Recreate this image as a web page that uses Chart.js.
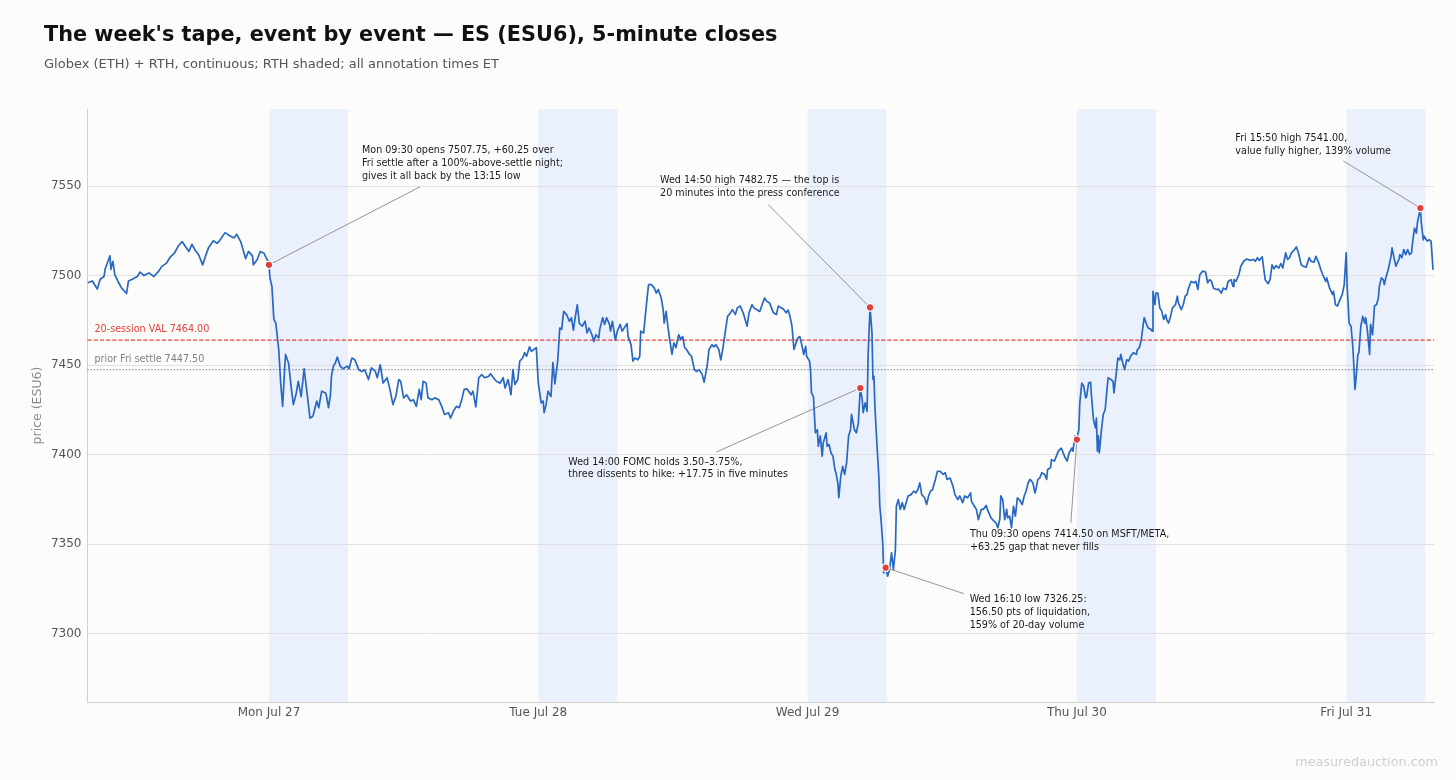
<!DOCTYPE html>
<html>
<head>
<meta charset="utf-8">
<title>The week's tape — ES (ESU6)</title>
<script src="https://cdn.jsdelivr.net/npm/chart.js@4.4.1/dist/chart.umd.min.js"></script>
<style>
  html, body { margin: 0; padding: 0; background: #fcfcfb; overflow: hidden; }
  #wrap { position: relative; width: 1456px; height: 780px; }
</style>
</head>
<body>
<div id="wrap"><canvas id="tapeChart" width="1456" height="780"></canvas></div>
<script>
// 5-minute bar number, counted from the Sunday 18:00 Globex open (276 bars per session)
const bars = [
    0, 5, 10, 13, 17, 18, 21, 23, 24, 26, 28, 32, 35, 40, 42, 46, 51, 54, 58, 63, 68, 73, 76, 81, 85, 89, 93, 97, 100,
    104, 107, 110, 114, 118, 121, 124, 129, 133, 136, 141, 145, 150, 153, 157, 160, 162, 165, 169, 170, 174, 177, 181,
    183, 185, 186, 187, 189, 191, 193, 196, 198, 200, 202, 203, 206, 209, 211, 214, 216, 219, 222, 225, 228, 231, 235,
    237, 240, 244, 245, 247, 249, 250, 252, 254, 256, 259, 262, 266, 268, 271, 274, 278, 281, 284, 288, 291, 295, 297,
    300, 303, 307, 310, 313, 316, 319, 321, 324, 327, 331, 334, 337, 340, 342, 344, 347, 349, 353, 356, 360, 363, 366,
    370, 372, 375, 378, 381, 384, 386, 389, 393, 395, 398, 401, 404, 407, 411, 413, 416, 419, 423, 426, 428, 431, 434,
    436, 438, 441, 443, 446, 448, 450, 453, 455, 458, 460, 462, 465, 467, 468, 470, 472, 475, 477, 479, 482, 484, 486,
    488, 491, 494, 496, 498, 500, 502, 504, 507, 510, 512, 514, 517, 519, 521, 524, 525, 528, 530, 532, 535, 536, 538,
    541, 543, 546, 548, 550, 553, 554, 557, 559, 561, 564, 566, 567, 570, 573, 575, 578, 581, 583, 585, 588, 590, 591,
    593, 595, 597, 599, 601, 603, 606, 608, 610, 612, 614, 617, 619, 622, 624, 627, 630, 632, 635, 637, 640, 642, 644,
    647, 649, 651, 654, 656, 659, 661, 664, 666, 669, 672, 674, 676, 678, 681, 683, 686, 689, 692, 694, 696, 699, 701,
    703, 706, 708, 711, 713, 716, 718, 720, 722, 724, 725, 728, 730, 732, 734, 736, 737, 740, 741, 742, 744, 746, 748,
    749, 751, 753, 754, 757, 758, 760, 762, 764, 766, 767, 769, 770, 772, 774, 776, 778, 780, 782, 783, 786, 788, 790,
    792, 794, 795, 797, 799, 800, 802, 804, 805, 806, 807, 809, 811, 812, 813, 815, 816, 818, 820, 822, 824, 826, 828,
    829, 831, 833, 835, 837, 839, 841, 844, 847, 849, 851, 853, 855, 858, 860, 862, 864, 866, 869, 871, 874, 877, 879,
    881, 884, 887, 889, 892, 894, 897, 899, 902, 905, 906, 909, 911, 913, 916, 918, 921, 923, 926, 929, 931, 933, 935,
    936, 938, 940, 942, 943, 945, 947, 949, 951, 953, 955, 958, 960, 962, 964, 966, 969, 971, 972, 974, 976, 978, 981,
    983, 984, 987, 988, 991, 993, 995, 998, 1000, 1002, 1004, 1006, 1009, 1010, 1012, 1014, 1016, 1017, 1019, 1021,
    1023, 1024, 1026, 1028, 1029, 1031, 1033, 1034, 1035, 1036, 1037, 1039, 1041, 1043, 1045, 1046, 1049, 1051, 1052,
    1054, 1056, 1058, 1059, 1061, 1063, 1065, 1067, 1069, 1072, 1075, 1076, 1078, 1080, 1082, 1083, 1085, 1087, 1090,
    1091, 1092, 1094, 1095, 1097, 1099, 1101, 1103, 1105, 1106, 1108, 1110, 1112, 1115, 1117, 1118, 1121, 1123, 1125,
    1127, 1128, 1131, 1134, 1136, 1138, 1140, 1143, 1146, 1148, 1150, 1152, 1154, 1157, 1159, 1162, 1164, 1167, 1169,
    1172, 1174, 1175, 1177, 1180, 1182, 1185, 1188, 1192, 1195, 1197, 1199, 1201, 1204, 1205, 1207, 1210, 1212, 1214,
    1216, 1218, 1221, 1223, 1225, 1228, 1230, 1232, 1234, 1237, 1239, 1241, 1244, 1246, 1249, 1252, 1254, 1257, 1259,
    1262, 1264, 1266, 1269, 1270, 1273, 1276, 1277, 1279, 1281, 1283, 1286, 1288, 1290, 1291, 1293, 1295, 1297, 1299,
    1300, 1302, 1303, 1305, 1307, 1309, 1310, 1312, 1314, 1315, 1317, 1319, 1321, 1323, 1324, 1326, 1328, 1329, 1331,
    1333, 1336, 1337, 1339, 1341, 1344, 1345, 1347, 1349, 1351, 1353, 1355, 1357, 1358, 1360, 1362, 1363, 1365, 1366,
    1367, 1369, 1370, 1373, 1375, 1377, 1379
];

// 5-minute closes
const closes = [
    7496, 7497, 7492.5, 7498, 7499.5, 7503.5, 7508, 7511, 7503.5, 7508, 7500.5, 7496, 7493, 7490, 7497, 7498, 7499.5,
    7502, 7500, 7501.5, 7499.5, 7502.5, 7505, 7507, 7510.5, 7512.5, 7516.5, 7519, 7516.5,
    7513.5, 7517.5, 7514.5, 7511.5, 7506, 7511, 7515.5, 7519.5, 7518, 7520, 7524, 7522.5, 7521, 7523, 7519, 7513.5,
    7509.5, 7513.5, 7511, 7506, 7509, 7513.5, 7512.5,
    7510, 7508, 7506, 7498.75, 7494, 7475.5, 7473.5, 7458.75, 7440, 7427, 7447.5, 7456, 7451.25, 7436.5, 7428, 7434.5,
    7441, 7432.5, 7448, 7434.5, 7420.5, 7421.5, 7430,
    7426.25, 7435.5, 7434.5, 7432.5, 7426.25, 7433.5, 7443.75, 7449.5, 7451.25, 7454.5, 7449.5, 7448, 7449.5, 7448,
    7454, 7453, 7447.5, 7446.5, 7447.5, 7442, 7448.5, 7446.5, 7443,
    7450.25, 7440, 7443, 7436.5, 7428, 7432.5, 7442, 7441, 7431.75, 7433.5, 7430, 7430.75, 7427, 7436.5, 7430.75,
    7441, 7440, 7431.75, 7430.75, 7431.75, 7430.75, 7427, 7422.5,
    7423.5, 7420.5, 7424.25, 7427, 7426.25, 7431.75, 7436.5, 7436.75, 7433.5, 7435.5, 7426.75, 7443, 7444.75, 7443,
    7443.75, 7445.25, 7443, 7441, 7440, 7443, 7437.25, 7442, 7433.5,
    7447.5, 7439.25, 7442, 7452.25, 7454, 7457, 7455, 7460.25, 7457.75, 7459, 7459.75, 7440, 7429, 7430, 7423.5, 7428,
    7435.5, 7432.5, 7451.5, 7439.5, 7453, 7470.75, 7470,
    7480, 7478.25, 7474.5, 7476.5, 7469.5, 7477.25, 7483.75, 7473.5, 7471.75, 7474.5, 7468, 7470.75, 7467, 7463.25,
    7467, 7465.25, 7470, 7476.5, 7472.75, 7476.5, 7472.75, 7469, 7474.5,
    7464, 7469, 7472.75, 7469, 7470.75, 7473.25, 7466, 7461.5, 7452.25, 7454, 7453, 7455, 7469, 7468, 7484.75, 7495,
    7495, 7493, 7490.25, 7492.25, 7487.5, 7481, 7473.5,
    7480, 7470.75, 7463.25, 7456, 7462.5, 7459.75, 7467, 7464.25, 7466, 7459.75, 7458.75, 7456, 7455, 7447.5, 7446.5,
    7447.5, 7444.75, 7440.5, 7449.5, 7458.75, 7461.5, 7460.25, 7461.5,
    7458.75, 7453, 7458.75, 7470, 7477.25, 7479.25, 7481, 7478.25, 7482, 7483, 7479.25, 7475.5, 7471.75, 7479.25,
    7483.75, 7482, 7481, 7480, 7484.75, 7487.5, 7485.75, 7484.75, 7482,
    7479.25, 7478.25, 7483, 7482, 7481.5, 7479.25, 7480.75, 7477.25, 7471.75, 7458.75, 7460.5, 7465.25, 7466, 7461.5,
    7456, 7460.5, 7455, 7452.25, 7447.5, 7434.5, 7432.5, 7412.25, 7414,
    7404.75, 7410.5, 7399.25, 7406.5, 7412.25, 7404.75, 7405.75, 7401, 7399.25, 7391.75, 7390, 7384.25, 7376, 7388,
    7393.5, 7389, 7395.5, 7410.5, 7414, 7422.5, 7414, 7412.25, 7417.75,
    7437.25, 7430.75, 7423.5, 7429, 7424.25, 7455, 7482.25, 7468, 7442, 7443.75, 7427, 7406.5, 7388, 7371.25, 7365.75,
    7350.75, 7334, 7337, 7332.25, 7336, 7345.25, 7336, 7347,
    7371.25, 7375, 7369.5, 7373.25, 7369.5, 7373.25, 7377, 7377.75, 7379.75, 7378.75, 7380.5, 7384.25, 7377.75, 7376,
    7372.25, 7377, 7379.75, 7380.5, 7386.25, 7390.75, 7390.75, 7389, 7390,
    7386.25, 7387, 7382.5, 7377.75, 7375, 7377, 7373.25, 7377, 7376, 7378.75, 7374, 7371.25, 7369.5, 7363.75, 7369.5,
    7369.5, 7371.75, 7368.5, 7364.75, 7363, 7362, 7359.25, 7364,
    7377, 7375, 7363.75, 7369.5, 7364.75, 7365.75, 7359.25, 7371.25, 7365.75, 7376, 7375, 7372.25, 7377, 7379.75,
    7384.25, 7386.25, 7384.25, 7378.75, 7380.5, 7386.25, 7387, 7390, 7389,
    7386.25, 7391.75, 7392.75, 7397.25, 7396.5, 7399.25, 7402, 7403.75, 7401, 7398.25, 7396.5, 7401, 7403.75, 7402,
    7410.5, 7408.5, 7414, 7429, 7440, 7438.25,
    7431.75, 7432.5, 7440, 7440.5, 7432.5, 7419.5, 7415, 7420.5, 7402, 7410.5, 7401, 7413, 7422.5, 7425.25, 7437.25,
    7443, 7442, 7441, 7434.5,
    7443.75, 7454, 7453, 7456, 7451.25, 7447.5, 7453, 7452.25, 7455, 7457, 7456, 7458.75, 7459.75, 7464.25, 7472.75,
    7476.5, 7473.5, 7470.75, 7470,
    7469, 7491.25, 7483.75, 7490.25, 7490.25, 7482, 7480, 7475.5, 7478.25, 7475.5, 7473.5, 7477.25, 7482, 7483.75,
    7488.5, 7484.75, 7481, 7483.75, 7488.5,
    7489.5, 7492.25, 7496.75, 7496, 7496.75, 7492.25, 7500.5, 7502.5, 7502, 7496, 7497.75, 7496.75, 7493, 7492.25,
    7492.5, 7490.25, 7493, 7492.25, 7496.75,
    7497.75, 7494, 7497.75, 7496.75, 7500.5, 7505.25, 7508, 7509.25, 7508.5, 7509, 7508, 7510, 7508.5, 7510.5, 7506,
    7497.75, 7495.5, 7497.75, 7506,
    7503.75, 7505.5, 7504.25, 7506.75, 7504.25, 7512.75, 7509, 7510, 7512.75, 7514.5, 7516, 7512.75, 7506, 7505.25,
    7504.75, 7510, 7508, 7507.5, 7510.75,
    7507, 7503.25, 7500.5, 7496.75, 7498.75, 7493, 7489.5, 7491.25, 7483.75, 7483, 7485.75, 7489.5, 7495, 7512.75,
    7494, 7473.5, 7471.75, 7458.75, 7436.5,
    7442, 7456, 7457, 7471.75, 7477.25, 7473.5, 7476.5, 7468, 7456, 7472.75, 7467, 7483, 7483.75, 7487.5, 7494,
    7498.75, 7497.75, 7495, 7499.5,
    7503.25, 7510.75, 7515.5, 7510, 7505.25, 7509, 7511.75, 7510, 7514.5, 7511.75, 7514.5, 7511.75, 7512.75, 7518.25,
    7526.5, 7523.75, 7529.5, 7535, 7537.75,
    7529.5, 7520, 7522, 7519.25, 7520, 7519.25, 7503.25
];

// Session axis: RTH open bar of each day (09:30 ET) and its label
const dayOpenBars = [186, 462, 738, 1014, 1290];
const dayLabels = ['Mon Jul 27', 'Tue Jul 28', 'Wed Jul 29', 'Thu Jul 30', 'Fri Jul 31'];
const rthBars = 81; // 09:30 to 16:15
const priceTicks = [7300, 7350, 7400, 7450, 7500, 7550];

// Reference levels
const valLevel = 7464.00;
const settleLevel = 7447.50;

// Annotated events (bar numbers) and their notes
const eventBars = [186, 792, 802, 818, 1014, 1366];
const eventNotes = [
    ['Mon 09:30 opens 7507.75, +60.25 over', 'Fri settle after a 100%-above-settle night;', 'gives it all back by the 13:15 low'],
    ['Wed 14:00 FOMC holds 3.50\u20133.75%,', 'three dissents to hike: +17.75 in five minutes'],
    ['Wed 14:50 high 7482.75 \u2014 the top is', '20 minutes into the press conference'],
    ['Wed 16:10 low 7326.25:', '156.50 pts of liquidation,', '159% of 20-day volume'],
    ['Thu 09:30 opens 7414.50 on MSFT/META,', '+63.25 gap that never fills'],
    ['Fri 15:50 high 7541.00,', 'value fully higher, 139% volume']
];

// Where each note sits, in pixels from its dot: text anchor (dx, dy) and leader end (lx, ly)
const noteLayout = [
    { dx: 93, dy: -114, lx: 151, ly: -78 },
    { dx: -292, dy: 74, lx: -144, ly: 64 },
    { dx: -210, dy: -127, lx: -102, ly: -103 },
    { dx: 84, dy: 32, lx: 78, ly: 26 },
    { dx: -107, dy: 95, lx: -6, ly: 83 },
    { dx: -185, dy: -69, lx: -77, ly: -47 }
];

const FONT = '"DejaVu Sans", Verdana, sans-serif';
const LINE_BLUE = '#2868c2';
const VAL_RED = '#e8413c';
const SETTLE_GREY = '#7f7f7f';

document.addEventListener('DOMContentLoaded', () => {
    createTapeChart();
});

// Background and RTH shading, drawn under the grid
const backdropPlugin = {
    id: 'backdrop',
    beforeDraw(chart) {
        const { ctx, chartArea: a, scales: { x } } = chart;
        ctx.save();
        ctx.fillStyle = '#fcfcfb';
        ctx.fillRect(0, 0, chart.width, chart.height);
        ctx.fillStyle = '#eaf1fc';
        dayOpenBars.forEach(b => {
            const x0 = x.getPixelForValue(b);
            const x1 = x.getPixelForValue(b + rthBars);
            ctx.fillRect(x0, a.top, x1 - x0, a.bottom - a.top);
        });
        ctx.restore();
    }
};

// Horizontal reference levels with their small labels
function drawLevel(chart, value, color, dash, label) {
    const { ctx, chartArea: a, scales: { y } } = chart;
    const py = y.getPixelForValue(value);
    ctx.save();
    ctx.strokeStyle = color;
    ctx.lineWidth = 1.1;
    ctx.setLineDash(dash);
    ctx.beginPath();
    ctx.moveTo(a.left, py);
    ctx.lineTo(a.right, py);
    ctx.stroke();
    ctx.setLineDash([]);
    ctx.fillStyle = color;
    ctx.font = `9.6px ${FONT}`;
    ctx.textBaseline = 'middle';
    ctx.fillText(label, a.left + 7, py - 10.6);
    ctx.restore();
}

function eventPixel(chart, i) {
    const meta = chart.getDatasetMeta(0);
    const pt = meta.data[i];
    return { x: pt.x, y: pt.y };
}

const levelsPlugin = {
    id: 'levels',
    beforeDatasetsDraw(chart) {
        drawLevel(chart, valLevel, VAL_RED, [4.2, 2], '20-session VAL ' + valLevel.toFixed(2));
        drawLevel(chart, settleLevel, SETTLE_GREY, [1.2, 2], 'prior Fri settle ' + settleLevel.toFixed(2));

        // leader lines go under the price line and the dots
        const { ctx } = chart;
        ctx.save();
        ctx.strokeStyle = '#7a7a7a';
        ctx.lineWidth = 0.8;
        eventBars.forEach((b, i) => {
            const p = eventPixel(chart, i);
            const l = noteLayout[i];
            ctx.beginPath();
            ctx.moveTo(p.x, p.y);
            ctx.lineTo(p.x + l.lx, p.y + l.ly);
            ctx.stroke();
        });
        ctx.restore();
    }
};

// Event notes, on top of everything in the plot
const notesPlugin = {
    id: 'notes',
    afterDatasetsDraw(chart) {
        const { ctx } = chart;
        ctx.save();
        ctx.fillStyle = '#1a1a1a';
        ctx.font = `9.6px ${FONT}`;
        ctx.textBaseline = 'middle';
        ctx.textAlign = 'left';
        eventNotes.forEach((lines, i) => {
            const p = eventPixel(chart, i);
            const l = noteLayout[i];
            lines.forEach((txt, k) => {
                ctx.fillText(txt, p.x + l.dx, p.y + l.dy + k * 12.7);
            });
        });
        ctx.restore();
    }
};

// Title, subtitle, rotated y title and the footer credit
const textPlugin = {
    id: 'pageText',
    afterDraw(chart) {
        const { ctx, chartArea: a } = chart;
        ctx.save();
        ctx.textBaseline = 'middle';
        ctx.textAlign = 'left';
        ctx.fillStyle = '#111111';
        ctx.font = `bold 20.8px ${FONT}`;
        ctx.fillText('The week\'s tape, event by event \u2014 ES (ESU6), 5-minute closes', 44, 36);
        ctx.fillStyle = '#555555';
        ctx.font = `13px ${FONT}`;
        ctx.fillText('Globex (ETH) + RTH, continuous; RTH shaded; all annotation times ET', 44, 65);

        ctx.save();
        ctx.translate(38, (a.top + a.bottom) / 2);
        ctx.rotate(-Math.PI / 2);
        ctx.textAlign = 'center';
        ctx.fillStyle = '#8a8a8a';
        ctx.font = `12.5px ${FONT}`;
        ctx.fillText('price (ESU6)', 0, 0);
        ctx.restore();

        ctx.textAlign = 'right';
        ctx.fillStyle = '#cfcfcf';
        ctx.font = `12.8px ${FONT}`;
        ctx.fillText('measuredauction.com', 1438, 763);
        ctx.restore();
    }
};

function createTapeChart() {
    const ctx = document.getElementById('tapeChart').getContext('2d');
    const tape = bars.map((b, i) => ({ x: b, y: closes[i] }));
    const events = eventBars.map(b => ({ x: b, y: closes[bars.indexOf(b)] }));

    new Chart(ctx, {
        type: 'line',
        data: {
            datasets: [
                {
                    label: 'events',
                    data: events,
                    showLine: false,
                    pointRadius: 3.7,
                    pointBackgroundColor: '#e0403a',
                    pointBorderColor: '#ffffff',
                    pointBorderWidth: 1.2,
                    order: 0
                },
                {
                    label: 'ESU6 5-min close',
                    data: tape,
                    borderColor: LINE_BLUE,
                    borderWidth: 1.7,
                    borderJoinStyle: 'round',
                    pointRadius: 0,
                    tension: 0,
                    fill: false,
                    order: 1
                }
            ]
        },
        options: {
            responsive: false,
            animation: false,
            events: [],
            layout: {
                padding: { top: 109, right: 22, left: 0, bottom: 0 }
            },
            plugins: {
                legend: { display: false },
                tooltip: { enabled: false },
                title: { display: false }
            },
            scales: {
                x: {
                    type: 'linear',
                    min: 0,
                    max: 1380,
                    afterFit(scale) { scale.height = 78; },
                    afterBuildTicks(scale) { scale.ticks = dayOpenBars.map(v => ({ value: v })); },
                    grid: { display: false, drawTicks: false },
                    border: { display: true, color: '#d0d0d0', width: 1 },
                    ticks: {
                        autoSkip: false,
                        maxRotation: 0,
                        padding: 4,
                        color: '#555555',
                        font: { family: FONT, size: 12 },
                        callback: (value, index) => dayLabels[index]
                    }
                },
                y: {
                    min: 7262,
                    max: 7593,
                    afterFit(scale) { scale.width = 87.5; },
                    afterBuildTicks(scale) { scale.ticks = priceTicks.map(v => ({ value: v })); },
                    grid: { color: '#e1e1e1', lineWidth: 1, drawTicks: false },
                    border: { display: true, color: '#d0d0d0', width: 1 },
                    ticks: {
                        padding: 6,
                        color: '#555555',
                        font: { family: FONT, size: 12 },
                        callback: value => String(value)
                    }
                }
            }
        },
        plugins: [backdropPlugin, levelsPlugin, notesPlugin, textPlugin]
    });
}
</script>
</body>
</html>
